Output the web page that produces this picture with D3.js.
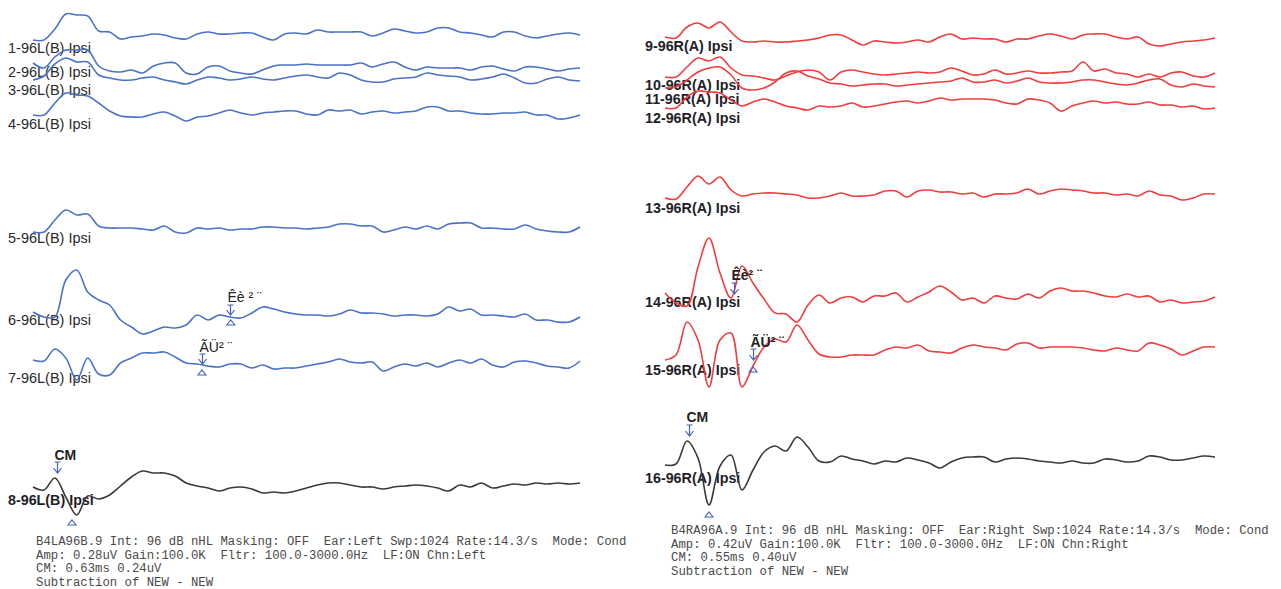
<!DOCTYPE html>
<html>
<head>
<meta charset="utf-8">
<script src="https://cdn.jsdelivr.net/npm/d3@7"></script>
<style>
  body { margin: 0; background: #fff; }
  svg { display: block; }
</style>
</head>
<body>
<svg id="chart" width="1281" height="589"></svg>
<script>
// Averaged ABR/CM recordings, 96 dB nHL, left ear (blue) and right ear (red).
// Each wave is sampled every 0.25 ms over a 12.5 ms window, amplitude in uV.
const sampleStep = 0.25;
const sweepMs = 12.5;

const leftLabels = ['1-96L(B) Ipsi', '2-96L(B) Ipsi', '3-96L(B) Ipsi', '4-96L(B) Ipsi',
  '5-96L(B) Ipsi', '6-96L(B) Ipsi', '7-96L(B) Ipsi', '8-96L(B) Ipsi'];
const rightLabels = ['9-96R(A) Ipsi', '10-96R(A) Ipsi', '11-96R(A) Ipsi', '12-96R(A) Ipsi',
  '13-96R(A) Ipsi', '14-96R(A) Ipsi', '15-96R(A) Ipsi', '16-96R(A) Ipsi'];

const wave1 = [0, 0, .11, .26, .25, .24, .09, .08, .01, .03, .04, .06, .05, .02, .01, .06, .08, .06, .06, .07,
  .07, .03, 0, .06, .07, .06, .10, .08, .08, .08, .08, .04, .07, .11, .09, .07, .08, .12, .12, .08,
  .07, .05, .03, .08, .08, .04, .02, .04, .06, .07, .05];
const wave2 = [0, -.05, .06, .13, .13, .13, -.03, -.08, -.09, -.07, -.10, -.03, 0, 0, -.10, -.11, -.04, -.03, -.08, -.10,
  -.11, -.07, -.03, -.02, -.02, -.01, -.02, -.02, -.02, -.02, 0, -.04, -.01, .01, -.04, -.07, -.04, -.05, -.05, -.05,
  -.07, -.04, -.03, -.06, -.08, -.04, -.04, -.06, -.08, -.06, -.05];
const wave3 = [0, .04, .16, .22, .18, .18, .05, .02, 0, 0, .02, .03, 0, -.02, -.04, 0, .03, .02, 0, .01,
  .03, .01, 0, .02, .04, .05, .03, .02, .07, .05, 0, -.02, -.02, .01, .02, .03, .07, .05, .04, .03,
  0, .01, .03, .06, .02, -.03, -.03, .01, .03, 0, -.01];
const wave4 = [0, 0, .12, .22, .20, .19, .12, .04, -.01, -.02, -.02, .01, .03, -.01, -.06, -.02, -.01, .02, .05, .02,
  0, .02, .03, .04, .04, .01, 0, .05, .04, .05, .01, .03, .04, .02, .03, .04, .08, .08, .04, .04,
  .02, .01, .01, .02, .02, .03, 0, 0, -.04, -.03, 0];
const wave5 = [0, 0, .12, .22, .17, .18, .06, .04, .04, .04, .03, .02, .06, 0, -.01, .04, .03, .04, .02, .03,
  .03, .05, .05, .04, .04, .03, .04, .05, .08, .08, .06, .06, 0, .02, .05, .03, .06, .03, .08, .09,
  .09, .04, .04, .03, .03, .07, .03, .01, 0, 0, .05];
const wave6 = [0, -.05, -.05, .32, .42, .20, .12, .07, -.08, -.15, -.22, -.19, -.15, -.16, -.13, -.03, -.08, -.03, -.05, -.06,
  -.01, .05, .03, 0, -.02, -.03, -.03, -.04, -.02, .02, -.01, -.01, -.02, -.04, -.03, -.03, -.04, -.02, .05, .01,
  .03, -.03, -.03, -.04, -.05, -.02, -.08, -.08, -.10, -.10, -.05];
const wave7 = [0, -.01, .11, .02, -.20, .02, -.14, -.15, -.03, .02, .07, .07, .08, .03, -.03, -.04, -.06, -.07, -.04, -.04,
  -.08, -.05, -.09, -.08, -.08, -.06, -.04, -.02, .01, -.02, -.03, -.02, -.11, -.07, -.04, -.06, -.03, -.07, -.03, 0,
  -.03, .01, -.05, -.07, -.02, -.01, -.03, -.06, -.07, -.08, -.01];
const wave8 = [0, -.03, .09, -.10, -.28, -.09, -.12, -.08, .01, .10, .16, .14, .14, .11, .04, .01, -.01, -.04, -.01, 0,
  -.02, -.06, -.05, -.06, -.04, -.01, .02, .04, .04, .02, 0, 0, -.02, 0, .01, .02, .01, -.01, -.04, .02,
  0, .04, -.01, .01, .03, .02, .04, .03, .04, .03, .04];
const wave9 = [0, -.01, .10, .14, .09, .15, .05, -.04, -.05, -.04, -.05, -.05, -.04, -.03, -.01, .02, .02, -.03, -.08, -.04,
  -.05, -.06, -.05, -.03, -.05, 0, .03, -.02, -.01, -.02, -.02, -.05, -.02, -.02, .01, .03, .01, -.02, .02, .03,
  .03, 0, -.02, 0, -.07, -.09, -.07, -.05, -.04, -.03, -.01];
const wave10 = [0, 0, .10, .19, .16, .20, .09, .02, .01, -.01, -.03, .01, .05, .07, .05, -.03, .05, .07, .05, .03,
  .02, .03, .04, .05, .04, .05, .09, .06, .02, .03, .07, .03, .04, .06, .04, .04, .05, .06, .15, .06,
  .08, .04, .03, 0, .03, 0, .04, .05, .01, 0, .04];
const wave11 = [0, .01, .08, .16, .20, .21, .13, 0, -.02, 0, .06, .15, .17, .12, .09, .05, .04, .02, .03, .04,
  .04, .02, .03, .04, .05, .06, .07, .10, .06, .06, .08, .05, .07, .10, .06, .05, .05, .06, .08, .08,
  .06, .04, .03, .05, .08, .09, .03, .01, .04, .02, .01];
const wave12 = [0, 0, .11, .17, .16, .15, .08, .02, .06, .09, .06, .02, 0, -.02, .02, .01, .02, .05, .01, .02,
  .04, .06, .07, .05, .07, .10, .08, .09, .09, .09, .08, .05, .04, .09, .08, .05, -.03, .02, .05, .07,
  .05, .06, .04, .04, .06, .03, .03, .01, .02, -.01, 0];
const wave13 = [0, -.01, .11, .22, .14, .21, .08, .02, .04, .05, .05, .04, .03, 0, 0, .02, .05, .02, .02, .03,
  .07, .07, .01, .07, .08, .06, .06, .04, .05, .01, .04, .04, .05, .09, .04, .07, .09, .08, .07, .05,
  .05, .03, .04, .02, .07, .03, .02, -.02, 0, .04, .04];
const wave14 = [0, -.10, -.13, .26, .55, .20, -.05, .27, .10, -.06, -.20, -.21, -.29, -.12, -.02, -.10, -.05, -.04, -.09, -.03,
  -.03, 0, -.09, -.04, .01, .07, .01, -.07, -.05, -.10, -.03, -.05, -.06, -.01, -.05, .02, .05, .02, .02, 0,
  -.03, -.04, -.01, -.04, -.03, -.09, -.07, -.10, -.09, -.08, -.04];
const wave15 = [0, .05, .38, .20, -.27, .20, .27, -.27, -.06, .13, .21, .18, .35, .20, .06, .03, .03, .05, .05, .05,
  .10, .13, .12, .15, .09, .08, .07, .12, .15, .13, .12, .10, .16, .17, .12, .13, .13, .13, .12, .10,
  .09, .12, .10, .09, .17, .15, .11, .05, .09, .13, .13];
const wave16 = [0, .01, .24, .07, -.40, -.01, .10, -.25, -.05, .13, .19, .14, .28, .18, .04, .03, .09, .06, .04, .01,
  .04, .03, .07, .05, .02, -.03, .03, .07, .08, .08, .03, .06, .07, .06, .04, .03, .02, .04, .02, .02,
  .06, .05, .03, .04, .09, .08, .05, .05, .07, .09, .08];

// peak picks: arrow + label, and trough picks (small triangles), time in ms
const peakTimesLeft = [0.55, 4.50, 3.86];
const peakTimesRight = [0.545, 1.57, 2.0];
const peakNames = ['CM', 'Êè ² ¨', 'ÃÜ² ¨'];
const peakNamesRight = ['CM', 'Êè² ¨', 'ÃÜ² ¨'];
const troughTimesLeft = [0.89, 4.52, 3.86];
const troughTimesRight = [1.0, 2.0];

const infoLeft = [
  'B4LA96B.9 Int: 96 dB nHL Masking: OFF  Ear:Left Swp:1024 Rate:14.3/s  Mode: Cond',
  'Amp: 0.28uV Gain:100.0K  Fltr: 100.0-3000.0Hz  LF:ON Chn:Left',
  'CM: 0.63ms 0.24uV',
  'Subtraction of NEW - NEW'
];
const infoRight = [
  'B4RA96A.9 Int: 96 dB nHL Masking: OFF  Ear:Right Swp:1024 Rate:14.3/s  Mode: Cond',
  'Amp: 0.42uV Gain:100.0K  Fltr: 100.0-3000.0Hz  LF:ON Chn:Right',
  'CM: 0.55ms 0.40uV',
  'Subtraction of NEW - NEW'
];

// ---- layout ----
const BLUE = '#4a72c6', RED = '#f23c3c', BLACK = '#3a3a3a', MARK = '#4561b8';
const panels = [
  {
    x0: 33, x1: 580, labelX: 8, labels: leftLabels,
    bold: [false, false, false, false, false, false, false, true],
    waves: [wave1, wave2, wave3, wave4, wave5, wave6, wave7, wave8],
    base: [40, 63, 80, 115, 232, 312, 360, 487],
    labelY: [53, 77, 95, 129, 243, 325, 383, 505],
    colors: [BLUE, BLUE, BLUE, BLUE, BLUE, BLUE, BLUE, BLACK],
    peaks: [
      { row: 7, t: peakTimesLeft[0], name: peakNames[0], bold: true, textY: 460, top: 462, tip: 473 },
      { row: 5, t: peakTimesLeft[1], name: peakNames[1], bold: false, textY: 302, top: 305, tip: 315 },
      { row: 6, t: peakTimesLeft[2], name: peakNames[2], bold: false, textY: 352, top: 354, tip: 364 }
    ],
    troughs: [
      { t: troughTimesLeft[0], y: 523 },
      { t: troughTimesLeft[1], y: 323 },
      { t: troughTimesLeft[2], y: 373 }
    ],
    info: infoLeft, infoX: 36, infoY: 545
  },
  {
    x0: 665, x1: 1215, labelX: 645, labels: rightLabels,
    bold: [true, true, true, true, true, true, true, true],
    waves: [wave9, wave10, wave11, wave12, wave13, wave14, wave15, wave16],
    base: [37, 77, 88, 108, 198, 293, 360, 465],
    labelY: [51, 90, 104, 123, 213, 307, 375, 483],
    colors: [RED, RED, RED, RED, RED, RED, RED, BLACK],
    peaks: [
      { row: 7, t: peakTimesRight[0], name: peakNamesRight[0], bold: true, textY: 422, top: 425, tip: 436 },
      { row: 5, t: peakTimesRight[1], name: peakNamesRight[1], bold: true, textY: 280, top: 283, tip: 294 },
      { row: 6, t: peakTimesRight[2], name: peakNamesRight[2], bold: true, textY: 347, top: 349, tip: 360 }
    ],
    troughs: [
      { t: troughTimesRight[0], y: 515 },
      { t: troughTimesRight[1], y: 370 }
    ],
    info: infoRight, infoX: 671, infoY: 534
  }
];

const svg = d3.select('#chart');
const amp = d3.scaleLinear().domain([0, 1]).range([0, -100]); // 100 px per uV
const labelFont = '"Liberation Sans", Arial, sans-serif';

panels.forEach((p, pi) => {
  const x = d3.scaleLinear().domain([0, sweepMs]).range([p.x0, p.x1]);
  const g = svg.append('g').attr('class', 'panel-' + pi);

  // row labels sit under the traces
  g.selectAll('text.row-label')
    .data(p.labels)
    .join('text')
    .attr('class', 'row-label')
    .attr('x', p.labelX)
    .attr('y', (d, i) => p.labelY[i])
    .attr('font-family', labelFont)
    .attr('font-size', (d, i) => (p.bold[i] ? 14.3 : 14.5))
    .attr('font-weight', (d, i) => (p.bold[i] ? 'bold' : 'normal'))
    .attr('fill', (d, i) => (p.bold[i] ? '#1e1e28' : '#2a2a2a'))
    .text((d) => d);

  p.waves.forEach((w, i) => {
    const line = d3.line()
      .x((d, k) => x(k * sampleStep))
      .y((d) => p.base[i] + amp(d))
      .curve(d3.curveCatmullRom.alpha(0.5));
    g.append('path')
      .attr('d', line(w))
      .attr('fill', 'none')
      .attr('stroke', p.colors[i])
      .attr('stroke-width', 1.6)
      .attr('stroke-linejoin', 'round');
  });

  // peak markers: small down arrow with label above
  p.peaks.forEach((m) => {
    const px = Math.round(x(m.t)) + 0.5;
    g.append('text')
      .attr('x', px - 3)
      .attr('y', m.textY)
      .attr('font-family', labelFont)
      .attr('font-size', 14)
      .attr('font-weight', m.bold ? 'bold' : 'normal')
      .attr('fill', '#222')
      .text(m.name);
    g.append('path')
      .attr('d', `M${px - 3},${m.top}H${px + 3}M${px},${m.top}V${m.tip}M${px - 4},${m.tip - 5}L${px},${m.tip}L${px + 4},${m.tip - 5}`)
      .attr('fill', 'none')
      .attr('stroke', MARK)
      .attr('stroke-width', 1.2);
  });

  // trough markers: open triangles
  p.troughs.forEach((m) => {
    const px = x(m.t);
    g.append('path')
      .attr('d', `M${px - 4},${m.y + 2}L${px},${m.y - 3}L${px + 4},${m.y + 2}Z`)
      .attr('fill', 'none')
      .attr('stroke', MARK)
      .attr('stroke-width', 1.1);
  });

  // recording info block
  g.selectAll('text.info')
    .data(p.info)
    .join('text')
    .attr('class', 'info')
    .attr('x', p.infoX)
    .attr('y', (d, i) => p.infoY + i * 13.6)
    .attr('font-family', '"Liberation Mono", "Courier New", monospace')
    .attr('font-size', 12.3)
    .attr('fill', '#4a4a4a')
    .attr('xml:space', 'preserve')
    .style('white-space', 'pre')
    .text((d) => d);
});
</script>
</body>
</html>
